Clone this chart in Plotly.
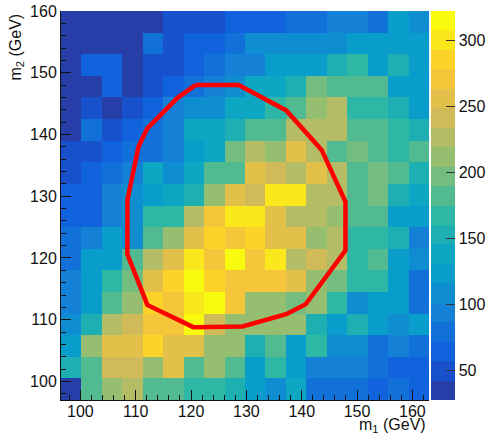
import numpy as np
import plotly.graph_objects as go

# ---- data ----
x_min, x_max, nx = 96.5, 163.0, 18
y_min, y_max, ny = 97.0, 160.0, 18

# counts per bin, rows from bottom (low m2) to top (high m2)
z_rows = [
    [35, 182, 212, 226, 182, 182, 167, 167, 153, 123, 109, 138, 79, 79, 79, 65, 79, 65],
    [153, 182, 241, 241, 212, 256, 182, 212, 182, 123, 167, 123, 94, 94, 94, 79, 65, 65],
    [123, 212, 256, 256, 285, 256, 256, 212, 212, 153, 182, 123, 167, 109, 109, 79, 94, 79],
    [109, 153, 226, 241, 270, 270, 314, 241, 212, 212, 212, 212, 153, 123, 153, 123, 109, 123],
    [94, 123, 182, 212, 285, 270, 300, 314, 270, 212, 212, 197, 212, 167, 109, 123, 123, 79],
    [94, 123, 167, 197, 256, 285, 314, 285, 270, 270, 270, 256, 212, 197, 167, 167, 123, 79],
    [79, 123, 123, 182, 226, 256, 300, 270, 314, 270, 300, 226, 241, 226, 167, 182, 123, 109],
    [79, 94, 123, 109, 182, 212, 256, 285, 270, 285, 256, 256, 212, 226, 167, 167, 153, 94],
    [65, 65, 94, 109, 167, 167, 226, 270, 300, 300, 256, 226, 226, 212, 182, 182, 123, 123],
    [65, 65, 94, 109, 123, 138, 153, 212, 256, 241, 300, 300, 226, 226, 182, 197, 153, 138],
    [50, 65, 79, 94, 138, 109, 138, 182, 182, 256, 241, 226, 256, 226, 182, 197, 182, 153],
    [50, 50, 65, 79, 79, 94, 123, 138, 197, 226, 212, 256, 226, 182, 197, 182, 167, 182],
    [35, 79, 50, 65, 79, 94, 138, 138, 153, 182, 182, 226, 226, 226, 182, 182, 167, 153],
    [35, 50, 35, 50, 65, 94, 109, 109, 138, 138, 167, 182, 212, 226, 167, 167, 153, 123],
    [35, 35, 65, 35, 50, 65, 79, 94, 109, 138, 138, 153, 197, 182, 182, 182, 123, 123],
    [35, 65, 65, 35, 50, 50, 65, 79, 94, 94, 123, 123, 123, 153, 167, 123, 153, 123],
    [35, 35, 35, 35, 79, 50, 65, 65, 79, 109, 109, 109, 109, 109, 123, 123, 123, 123],
    [35, 35, 35, 35, 35, 50, 50, 50, 65, 65, 65, 79, 79, 94, 94, 79, 123, 109],
]

# contour (red line) vertices
contour_x = [120.8, 128.6, 137.2, 143.6, 147.9, 147.9, 140.7, 137.2, 129.3, 120.4,
             112.1, 108.5, 108.5, 110.5, 112.1, 117.5, 120.8]
contour_y = [148.0, 148.0, 143.9, 137.5, 129.1, 121.2, 112.5, 110.9, 108.9, 108.8,
             112.4, 120.6, 129.4, 138.0, 141.0, 145.9, 148.0]

z_lo, z_hi, n_bands = 28.0, 322.0, 20

# ---- kBird palette ----
stops = [0.0, 0.125, 0.25, 0.375, 0.5, 0.625, 0.75, 0.875, 1.0]
red = [0.2082, 0.0592, 0.0780, 0.0232, 0.1802, 0.5301, 0.8186, 0.9956, 0.9764]
green = [0.1664, 0.3599, 0.5041, 0.6419, 0.7178, 0.7492, 0.7328, 0.7862, 0.9832]
blue = [0.5293, 0.8684, 0.8385, 0.7914, 0.6425, 0.4662, 0.3499, 0.1968, 0.0539]


def bird(f):
    r = np.interp(f, stops, red)
    g = np.interp(f, stops, green)
    b = np.interp(f, stops, blue)
    return "rgb(%d,%d,%d)" % (round(r * 255), round(g * 255), round(b * 255))


colorscale = []
for i in range(n_bands):
    f = int((i + 0.99) * 255 / n_bands) / 254.0
    c = bird(min(f, 1.0))
    colorscale.append([i / n_bands, c])
    colorscale.append([(i + 1) / n_bands, c])

x_edges = np.linspace(x_min, x_max, nx + 1)
y_edges = np.linspace(y_min, y_max, ny + 1)

W, H = 486, 437
L, R, T, B = 61, 57, 11, 37
pw = W - L - R
ph = H - T - B

fig = go.Figure()
fig.add_trace(go.Heatmap(
    x=x_edges, y=y_edges, z=z_rows,
    zmin=z_lo, zmax=z_hi, colorscale=colorscale,
    colorbar=dict(
        x=(431 - L) / pw, xanchor="left", xref="paper",
        y=0.5, yanchor="middle", len=1.0, lenmode="fraction",
        thickness=24, thicknessmode="pixels", outlinewidth=0,
        tickvals=[50, 100, 150, 200, 250, 300],
        ticks="inside", ticklen=9, tickcolor="#333333", tickwidth=1.3,
        tickfont=dict(family="Liberation Sans, Arial, sans-serif", size=16, color="#111111"),
        xpad=0, ypad=0,
    ),
    hoverinfo="skip",
))
fig.add_trace(go.Scatter(
    x=contour_x, y=contour_y, mode="lines",
    line=dict(color="#ff0000", width=4.5),
    hoverinfo="skip", showlegend=False,
))

font = dict(family="Liberation Sans, Arial, sans-serif", size=16, color="#111111")
fig.update_layout(
    width=W, height=H,
    margin=dict(l=L, r=R, t=T, b=B, pad=0, autoexpand=False),
    paper_bgcolor="white", plot_bgcolor="white",
    showlegend=False,
    xaxis=dict(
        range=[x_min, x_max], tickvals=[100, 110, 120, 130, 140, 150, 160],
        ticks="inside", ticklen=10, tickcolor="#111111", tickwidth=1,
        minor=dict(dtick=2, tick0=0, ticks="inside", ticklen=5, tickcolor="#111111"),
        showline=True, linecolor="#111111", linewidth=1,
        showgrid=False, zeroline=False, tickfont=font, ticklabelstandoff=-3,
    ),
    yaxis=dict(
        range=[y_min, y_max], tickvals=[100, 110, 120, 130, 140, 150, 160],
        ticks="inside", ticklen=10, tickcolor="#111111", tickwidth=1,
        minor=dict(dtick=2, tick0=0, ticks="inside", ticklen=5, tickcolor="#111111"),
        showline=True, linecolor="#111111", linewidth=1,
        showgrid=False, zeroline=False, tickfont=font,
    ),
    annotations=[
        dict(text="m<sub>2</sub> (GeV)", xref="paper", yref="paper",
             x=(16 - L) / pw, y=(H - B - 12) / ph, xanchor="center", yanchor="top",
             textangle=-90, showarrow=False, font=font),
        dict(text="m<sub>1</sub> (GeV)", xref="paper", yref="paper",
             x=(428 - L) / pw, y=-(H - (H - B)) / ph, xanchor="right", yanchor="bottom",
             showarrow=False, font=font),
    ],
)

fig.write_html("out.html")
